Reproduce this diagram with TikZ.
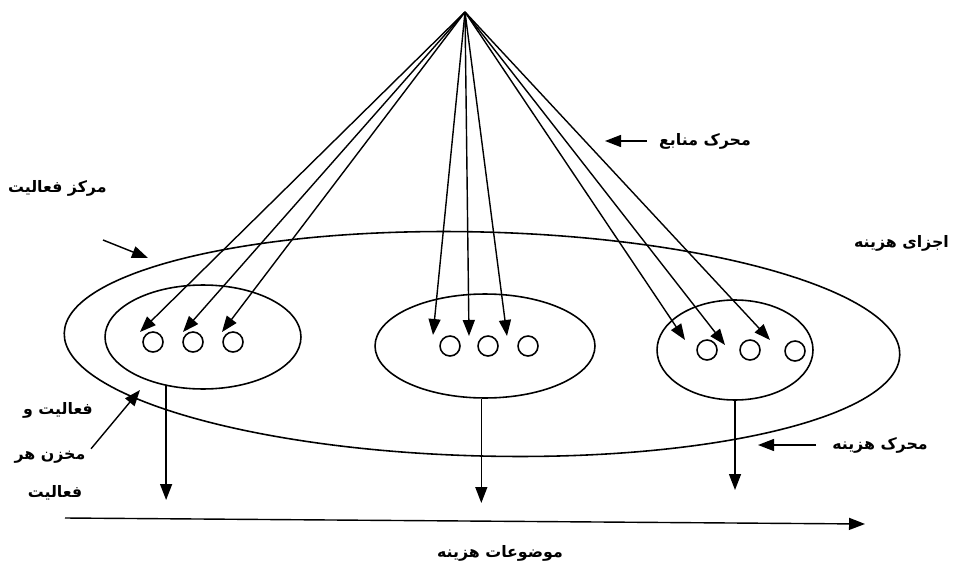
\documentclass[tikz,border=0pt]{standalone}
\usepackage{fontspec}
\newfontfamily\arabicfont[Script=Arabic]{DejaVu Sans}
\TeXXeTstate=1
\usetikzlibrary{arrows.meta,positioning,shapes.geometric}

\begin{document}
\begin{tikzpicture}[
  x=0.02cm, y=-0.02cm,
  pool/.style={ellipse, draw, line width=0.9pt, inner sep=0pt},
  item/.style={circle, draw, line width=0.9pt, minimum size=0.4cm,
               inner sep=0pt},
  flow/.style={-{Triangle[length=3.2mm,width=2.4mm]}, line width=0.8pt},
  farsi/.style={font=\arabicfont\bfseries\small, inner sep=1pt}
]
  \useasboundingbox (0,0) rectangle (955,567);

  % Activity centre and the three activity pools
  \node[pool, minimum width=16.72cm, minimum height=4.48cm, rotate=-1.5]
    (centre) at (482,344) {};
  \node[pool, minimum width=3.92cm, minimum height=2.08cm] (e1) at (203,337) {};
  \node[pool, minimum width=4.4cm, minimum height=2.08cm] (e2) at (485,346) {};
  \node[pool, minimum width=3.12cm, minimum height=2cm] (e3) at (735,350) {};

  % Cost elements
  \node[item] (c1) at (153,342) {};
  \node[item] (c2) at (193,342) {};
  \node[item] (c3) at (233,342) {};
  \node[item] (c4) at (450,346) {};
  \node[item] (c5) at (488,346) {};
  \node[item] (c6) at (528,346) {};
  \node[item] (c7) at (707,350) {};
  \node[item] (c8) at (750,350) {};
  \node[item] (c9) at (795,351) {};

  % Resource drivers from the top
  \coordinate (src) at (465,12);
  \coordinate (t1) at (140,332);
  \coordinate (t2) at (183,332);
  \coordinate (t3) at (222,332);
  \coordinate (t4) at (433,335);
  \coordinate (t5) at (469,336);
  \coordinate (t6) at (507,336);
  \coordinate (t7) at (685,340);
  \coordinate (t8) at (725,345);
  \coordinate (t9) at (770,340);
  \foreach \t in {t1,t2,t3,t4,t5,t6,t7,t8,t9}
    \draw[flow] (src) -- (\t);

  % Cost drivers down to the cost objects
  \coordinate (d1) at (165,500);
  \coordinate (d2) at (480,503);
  \coordinate (d3) at (735,490);
  \draw[flow] (e1.233) -- (e1.233 |- d1);
  \draw[flow] (e2.266) -- (e2.266 |- d2);
  \draw[flow] (e3.south) -- (e3.south |- d3);

  % Cost objects axis
  \coordinate (ax0) at (65,518);
  \coordinate (ax1) at (865,524);
  \draw[flow] (ax0) -- (ax1);
  \node[farsi] (objs) at (500,553) {\beginR موضوعات هزینه\endR};

  % Labels with pointers
  \node[farsi] (resDrv) at (705,141) {\beginR محرک منابع\endR};
  \coordinate (resTip) at (605,141);
  \draw[flow] ([xshift=-6pt]resDrv.west) -- (resTip);

  \node[farsi, anchor=west] (actCtr) at (6,188) {\beginR مرکز فعالیت\endR};
  \coordinate (actFrom) at (103,240);
  \coordinate (actTip) at (148,258);
  \draw[flow] (actFrom) -- (actTip);

  \node[farsi, anchor=east] (costEl) at (951,243) {\beginR اجزای هزینه\endR};

  \node[farsi] (pool1) at (58,410) {\beginR فعالیت و\endR};
  \node[farsi] (pool2) at (50,457) {\beginR مخزن هر\endR};
  \node[farsi] (pool3) at (55,493) {\beginR فعالیت\endR};
  \coordinate (poolTip) at (140,390);
  \draw[flow] ([xshift=2pt]pool2.north east) -- (poolTip);

  \node[farsi] (costDrv) at (880,445) {\beginR محرک هزینه\endR};
  \coordinate (costTip) at (758,445);
  \draw[flow] ([xshift=-8pt]costDrv.west) -- (costTip);
\end{tikzpicture}
\end{document}
